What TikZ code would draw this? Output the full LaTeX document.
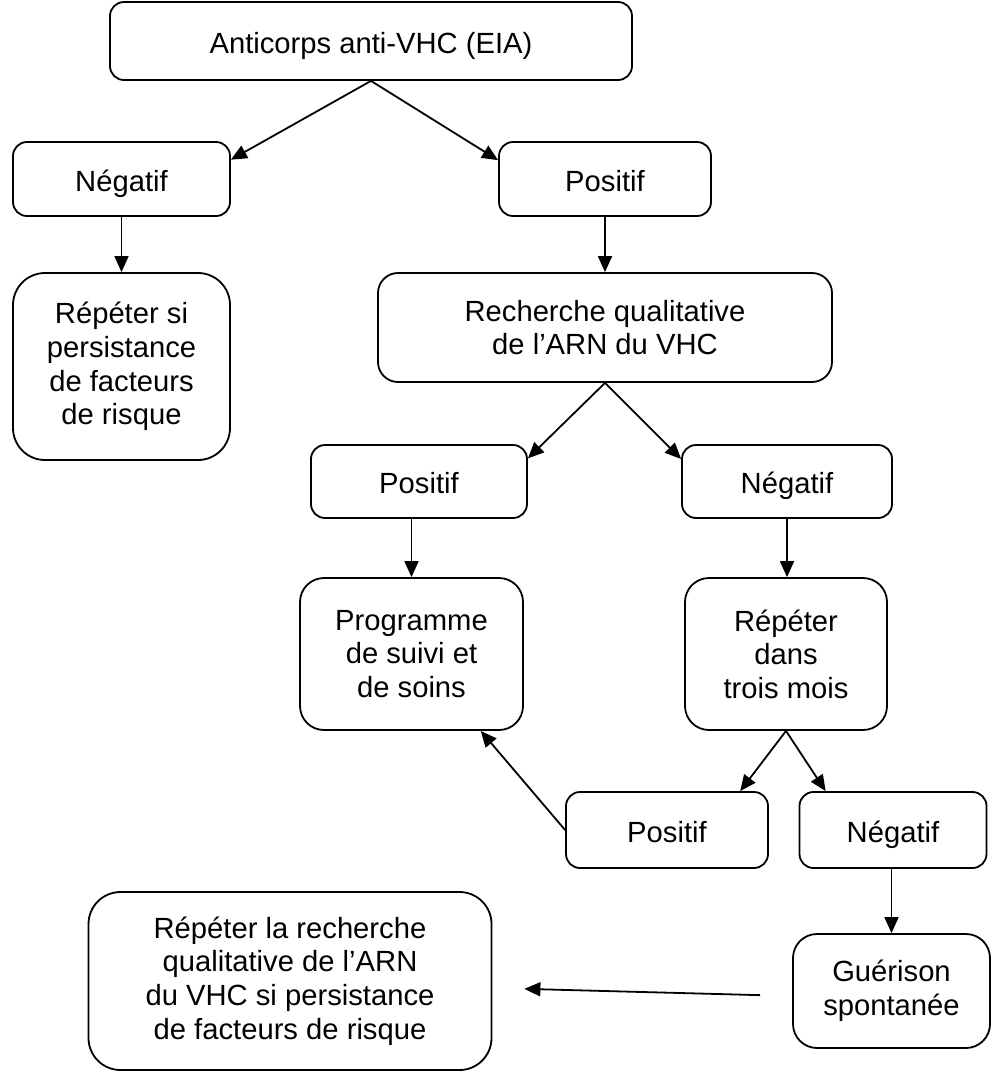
\documentclass[tikz,border=0pt]{standalone}
\usepackage{fontspec}
\setmainfont{Liberation Sans}
\usetikzlibrary{arrows.meta}
\tikzset{
    >={Triangle[length=8pt,width=7pt]},
    box/.style={draw, line width=0.9pt, rounded corners=7pt, align=center,
        inner sep=0pt, font=\fontsize{14.6}{16.8}\selectfont},
    single/.style={box, text height=12.8pt, text depth=0.4pt},
    tallbox/.style={box, rounded corners=12pt},
    bigbox/.style={box, rounded corners=16pt},
    link/.style={->, line width=0.9pt}
}

\begin{document}
\begin{tikzpicture}[x=0.5pt, y=-0.5pt]
    \useasboundingbox (0,0) rectangle (991,1072);
    % boxes
    \node[single, minimum width=261pt, minimum height=39pt] (anti) at (371,41) {Anticorps anti-VHC (EIA)};
    \node[single, minimum width=108.5pt, minimum height=37pt] (neg1) at (121.5,179) {N\'egatif};
    \node[single, minimum width=106pt, minimum height=37pt] (pos1) at (605,179) {Positif};
    \node[bigbox, minimum width=108.5pt, minimum height=93.5pt] (rep1) at (121.5,366.5) {R\'ep\'eter si\\persistance\\de facteurs\\de risque};
    \node[box, minimum width=227pt, minimum height=54.5pt, rounded corners=10pt] (rech) at (605,327.5) {Recherche qualitative\\de l'ARN du VHC};
    \node[single, minimum width=108pt, minimum height=36.5pt] (pos2) at (419,481.5) {Positif};
    \node[single, minimum width=105pt, minimum height=36.5pt] (neg2) at (787,481.5) {N\'egatif};
    \node[tallbox, minimum width=111.5pt, minimum height=76pt] (prog) at (411.5,654) {Programme\\de suivi et\\de soins};
    \node[tallbox, minimum width=101pt, minimum height=76pt] (rep2) at (786,654) {R\'ep\'eter\\dans\\trois mois};
    \node[single, minimum width=101pt, minimum height=38pt] (pos3) at (667,830) {Positif};
    \node[single, minimum width=93.5pt, minimum height=38pt] (neg3) at (893,830) {N\'egatif};
    \node[tallbox, minimum width=98.5pt, minimum height=57pt] (guer) at (891.5,991) {Gu\'erison\\spontan\'ee};
    \node[bigbox, minimum width=201.5pt, minimum height=89pt] (rep3) at (290,981) {R\'ep\'eter la recherche\\qualitative de l'ARN\\du VHC si persistance\\de facteurs de risque};
    % arrows
    \draw[link] (anti.south) -- (neg1.10);
    \draw[link] (anti.south) -- (pos1.170);
    \draw[link] (neg1) -- (rep1);
    \draw[link] (pos1) -- (rech);
    \draw[link] (rech.south) -- (pos2.12);
    \draw[link] (rech.south) -- (neg2.168);
    \draw[link] (pos2.south -| prog.north) -- (prog.north);
    \draw[link] (neg2.south) -- (neg2.south |- rep2.north);
    \draw[link] (rep2.south) -- (pos3.28);
    \draw[link] (rep2.south) -- (neg3.150);
    \draw[link] (pos3.west) -- (prog.-48);
    \draw[link] (neg3.south -| guer.north) -- (guer.north);
    \draw[link, shorten <=16pt, shorten >=16pt] ([yshift=-2.5pt]guer.west) -- ([yshift=-3.5pt]rep3.east);
\end{tikzpicture}
\end{document}
